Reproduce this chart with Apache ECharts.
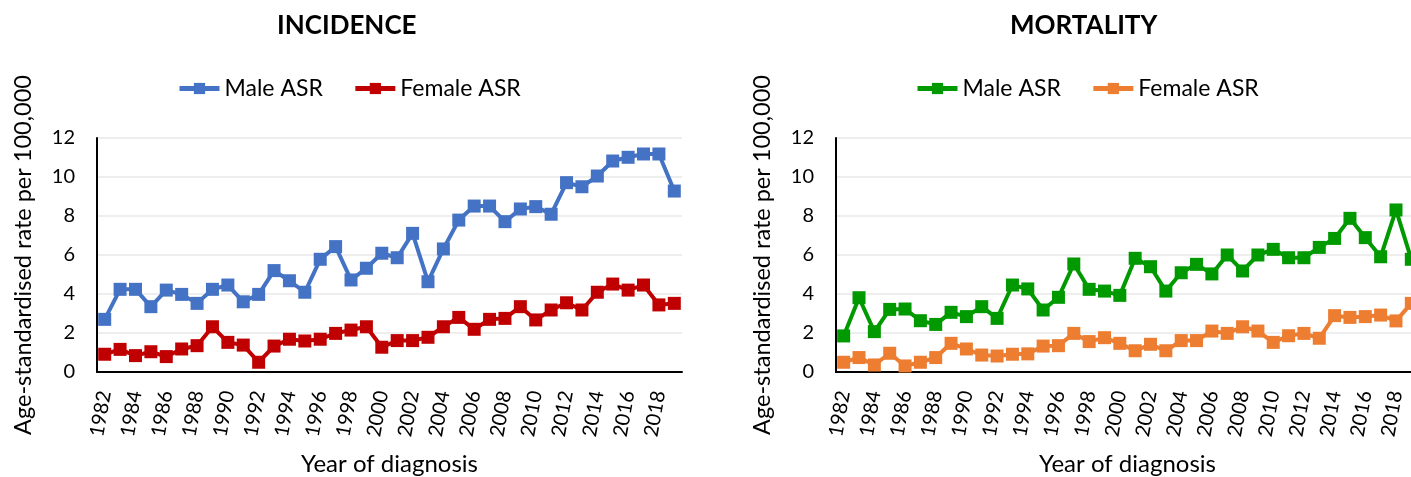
<!DOCTYPE html>
<html>
<head>
<meta charset="utf-8">
<script src="https://cdn.jsdelivr.net/npm/echarts@6/dist/echarts.min.js"></script>
<style>
  html, body { margin: 0; padding: 0; background: #fff; overflow: hidden; width: 1411px; height: 477px; position: relative; }
  #inc { position: absolute; left: 0; top: 0; width: 705px; height: 477px; }
  #mort { position: absolute; left: 705px; top: 0; width: 714px; height: 477px; }
</style>
</head>
<body>
<div id="inc"></div>
<div id="mort"></div>
<script>
// 年份 1982-2019
const years = [];
for (let y = 1982; y <= 2019; y++) years.push(String(y));

// 发病率
const incMale = [2.70, 4.24, 4.24, 3.35, 4.20, 3.98, 3.52, 4.24, 4.46, 3.60,
  3.98, 5.20, 4.68, 4.09, 5.78, 6.43, 4.72, 5.32, 6.09, 5.86,
  7.11, 4.63, 6.31, 7.79, 8.51, 8.51, 7.71, 8.36, 8.48, 8.09,
  9.71, 9.50, 10.05, 10.82, 11.01, 11.18, 11.18, 9.28];
const incFemale = [0.91, 1.16, 0.84, 1.04, 0.79, 1.18, 1.35, 2.32, 1.52, 1.38,
  0.50, 1.33, 1.68, 1.59, 1.68, 1.98, 2.15, 2.32, 1.27, 1.61,
  1.61, 1.78, 2.32, 2.80, 2.19, 2.70, 2.75, 3.35, 2.67, 3.18,
  3.55, 3.18, 4.09, 4.51, 4.20, 4.46, 3.44, 3.52];

// 死亡率
const mortMale = [1.85, 3.81, 2.07, 3.21, 3.23, 2.63, 2.44, 3.06, 2.84, 3.35,
  2.75, 4.46, 4.26, 3.18, 3.83, 5.54, 4.24, 4.15, 3.93, 5.83,
  5.40, 4.15, 5.09, 5.52, 5.03, 6.00, 5.18, 6.00, 6.29, 5.86,
  5.86, 6.39, 6.85, 7.88, 6.89, 5.91, 8.31, 5.78];
const mortFemale = [0.50, 0.74, 0.36, 0.96, 0.31, 0.50, 0.74, 1.47, 1.18, 0.87,
  0.82, 0.91, 0.93, 1.33, 1.35, 1.98, 1.56, 1.76, 1.47, 1.09,
  1.42, 1.09, 1.61, 1.61, 2.10, 1.98, 2.32, 2.10, 1.52, 1.86,
  1.98, 1.73, 2.89, 2.80, 2.84, 2.92, 2.62, 3.52];

const font = 'Lato, "Noto Sans", sans-serif';

// 封装方法--画一个面板
function makePanel(id, title, titleLeft, legendLeft, grid, male, female, colors) {
  const chart = echarts.init(document.getElementById(id));
  const line = (name, data, color) => ({
    name: name,
    type: 'line',
    data: data,
    symbol: 'rect',
    symbolSize: 13,
    showAllSymbol: true,
    color: color,
    lineStyle: { width: 4, color: color },
    itemStyle: { color: color },
    clip: false
  });
  chart.setOption({
    animation: false,
    textStyle: { fontFamily: font },
    title: {
      text: title,
      left: titleLeft,
      top: 8,
      textStyle: { fontFamily: font, fontSize: 26, fontWeight: 'bold', color: '#000' }
    },
    legend: {
      left: legendLeft,
      top: 72,
      itemWidth: 40,
      itemHeight: 14,
      itemGap: 30,
      lineStyle: { width: 5 },
      textStyle: { fontFamily: font, fontSize: 23, color: '#000' },
      data: ['Male ASR', 'Female ASR']
    },
    grid: grid,
    xAxis: {
      type: 'category',
      data: years,
      boundaryGap: true,
      name: 'Year of diagnosis',
      nameLocation: 'middle',
      nameGap: 80,
      nameTextStyle: { fontFamily: font, fontSize: 24, color: '#000' },
      axisLine: { lineStyle: { color: '#000', width: 2 } },
      axisTick: { show: false },
      axisLabel: { interval: 1, rotate: 80, fontSize: 20, color: '#000', margin: 19 }
    },
    yAxis: {
      type: 'value',
      min: 0,
      max: 12,
      interval: 2,
      name: 'Age-standardised rate per 100,000',
      nameLocation: 'middle',
      nameGap: 62,
      nameTextStyle: { fontFamily: font, fontSize: 23.5, color: '#000' },
      axisLine: { show: true, lineStyle: { color: '#000', width: 2 } },
      axisTick: { show: false },
      axisLabel: { fontSize: 20, color: '#000', margin: 22 },
      splitLine: { lineStyle: { color: '#eeeeee', width: 2 } }
    },
    series: [
      line('Male ASR', male, colors[0]),
      line('Female ASR', female, colors[1])
    ]
  });
}

makePanel('inc', 'INCIDENCE', 272, 172,
  { left: 97, right: 23, top: 138, bottom: 105 },
  incMale, incFemale, ['#4472C4', '#C00000']);
makePanel('mort', 'MORTALITY', 300, 205,
  { left: 131, right: 0, top: 138, bottom: 105 },
  mortMale, mortFemale, ['#009900', '#ED7D31']);
</script>
</body>
</html>
